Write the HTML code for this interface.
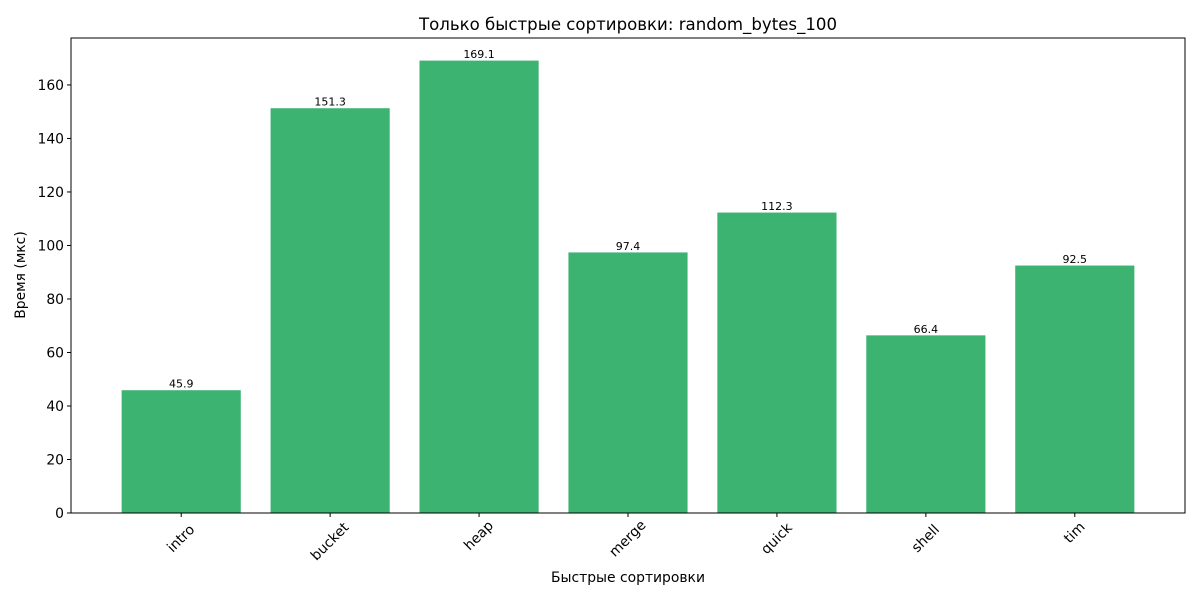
<!DOCTYPE html>
<html><head><meta charset="utf-8"><style>
body{margin:0;background:#fff;}
svg{font-family:"DejaVu Sans","Liberation Sans",sans-serif;}
</style></head><body>
<svg id="chart" width="1200" height="600" viewBox="0 0 1200 600">
<rect width="1200" height="600" fill="#fff"/>
<text x="628" y="30" font-size="16.6" text-anchor="middle">Только быстрые сортировки: random_bytes_100</text>
<g id="plot"></g>
<text x="628" y="582" font-size="13.9" text-anchor="middle">Быстрые сортировки</text>
<text x="25" y="275" font-size="13.9" text-anchor="middle" transform="rotate(-90 25 275)">Время (мкс)</text>
</svg>
<script>
const categories=["intro","bucket","heap","merge","quick","shell","tim"];
const values=[45.9,151.3,169.1,97.4,112.3,66.4,92.5];
const yTicks=[0,20,40,60,80,100,120,140,160];
const L=71,R=1185,T=38,B=513,yMax=177.55;
const xMin=-0.74,xMax=6.74;
function xs(v){return L+(v-xMin)/(xMax-xMin)*(R-L);}
function ys(v){return B-v/yMax*(B-T);}
const NS="http://www.w3.org/2000/svg";
const g=document.getElementById('plot');
function mk(t,a,txt){const e=document.createElementNS(NS,t);for(const k in a)e.setAttribute(k,a[k]);if(txt!==undefined)e.textContent=txt;g.appendChild(e);return e;}
categories.forEach((c,i)=>{
  const x0=xs(i-0.4),x1=xs(i+0.4);
  const b=mk('rect',{x:x0,y:ys(values[i]),width:x1-x0,height:B-ys(values[i]),fill:'#3cb371'});
  
  
  const v=mk('text',{x:xs(i),y:ys(values[i])-2.5,'font-size':11,'text-anchor':'middle'},values[i].toFixed(1));
  
  
  const tk=mk('line',{x1:xs(i),x2:xs(i),y1:B,y2:B+4,stroke:'#000'});
  
  
  const w=c.length*8.4, d=w/2*0.7071;
  const tx=xs(i),ty=B+11+d;
  const lb=mk('text',{x:tx,y:ty,'font-size':13.9,'text-anchor':'middle','dominant-baseline':'central',transform:`rotate(-45 ${tx} ${ty})`},c);
  
  
});
yTicks.forEach(t=>{
  const y=ys(t);
  const tk=mk('line',{x1:L-4,x2:L,y1:y,y2:y,stroke:'#000'});
  
  
  const lb=mk('text',{x:L-7,y:y+5,'font-size':13.9,'text-anchor':'end'},t);
  
  
});
const fr=mk('rect',{x:L,y:T,width:R-L,height:B-T,fill:'none',stroke:'#000','stroke-width':1});


</script>
</body></html>
